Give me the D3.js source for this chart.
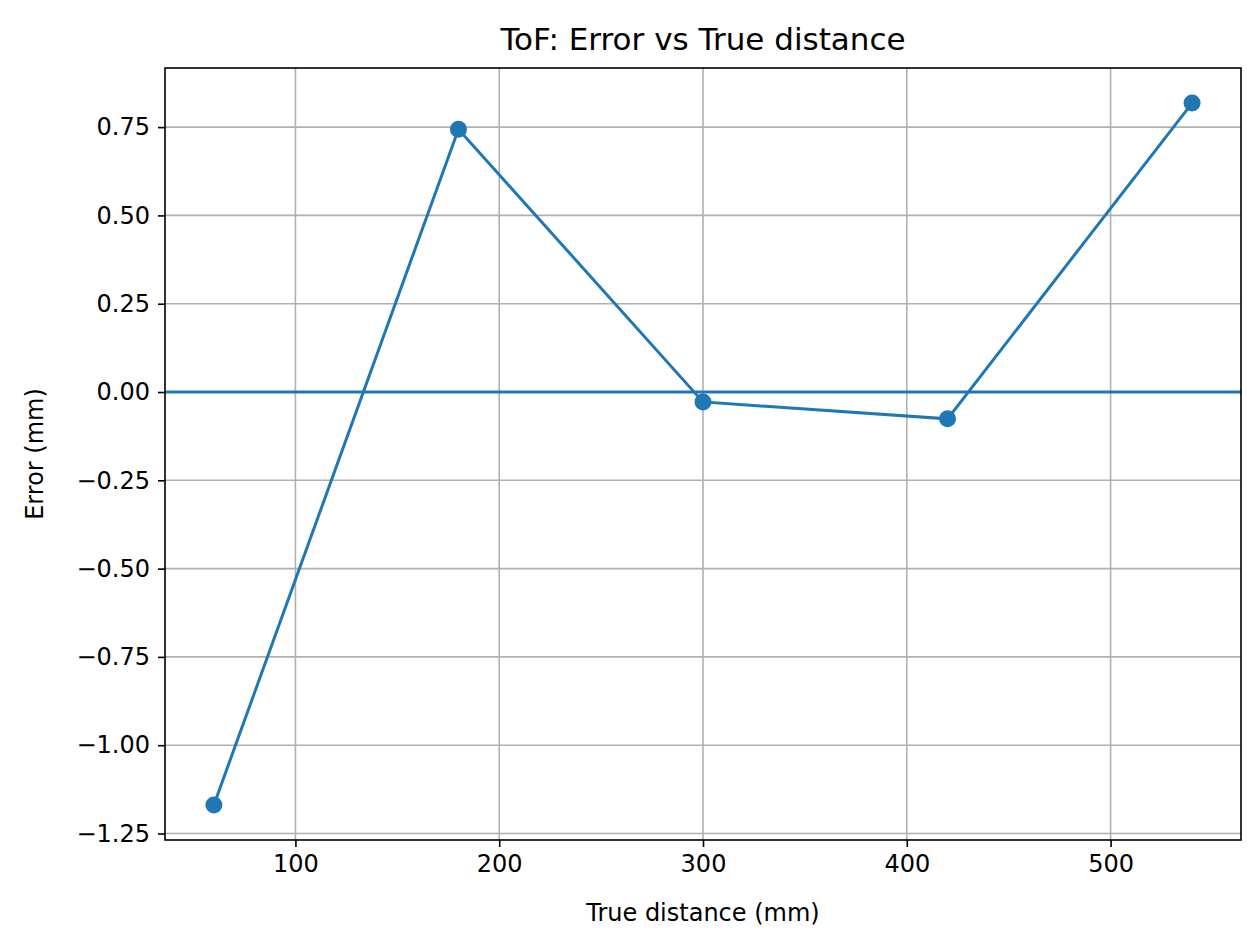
<!DOCTYPE html>
<html>
<head>
<meta charset="utf-8">
<script src="https://d3js.org/d3.v7.min.js"></script>
<style>
  body { margin: 0; background: #fff; }
  text { font-family: "DejaVu Sans", sans-serif; fill: #000; }
  .grid line { stroke: #b0b0b0; stroke-width: 1.6; }
</style>
</head>
<body>
<svg id="chart" width="1252" height="940"></svg>
<script>
  var distances = [60, 180, 300, 420, 540];
  var errors = [-1.169, 0.744, -0.028, -0.076, 0.818];
  var xTicks = [100, 200, 300, 400, 500];
  var yTicks = [-1.25, -1.00, -0.75, -0.50, -0.25, 0.00, 0.25, 0.50, 0.75];

  var mLeft = 165, mRight = 1241, mTop = 68, mBottom = 840;
  var blue = "#1f77b4";
  var svg = d3.select("#chart");

  var x = d3.scaleLinear().domain([36, 564]).range([mLeft, mRight]);
  var y = d3.scaleLinear().domain([-1.2684, 0.9174]).range([mBottom, mTop]);

  // grid
  var grid = svg.append("g").attr("class", "grid");
  grid.selectAll(".gx").data(xTicks).enter().append("line")
    .attr("x1", d => x(d)).attr("x2", d => x(d)).attr("y1", mTop).attr("y2", mBottom);
  grid.selectAll(".gy").data(yTicks).enter().append("line")
    .attr("x1", mLeft).attr("x2", mRight).attr("y1", d => y(d)).attr("y2", d => y(d));

  // zero line
  svg.append("line").attr("x1", mLeft).attr("x2", mRight)
    .attr("y1", y(0)).attr("y2", y(0))
    .attr("stroke", blue).attr("stroke-width", 3);

  // series
  var line = d3.line().x((d, i) => x(distances[i])).y(d => y(d));
  svg.append("path").attr("d", line(errors))
    .attr("fill", "none").attr("stroke", blue).attr("stroke-width", 3);
  svg.selectAll(".pt").data(errors).enter().append("circle")
    .attr("cx", (d, i) => x(distances[i])).attr("cy", d => y(d))
    .attr("r", 8.5).attr("fill", blue);

  // axes
  var xAxis = d3.axisBottom(x).tickValues(xTicks).tickSize(7).tickPadding(8);
  var yAxis = d3.axisLeft(y).tickValues(yTicks).tickSize(7).tickPadding(8)
    .tickFormat(d => d3.format(".2f")(d).replace("-", "\u2212"));

  svg.append("g").attr("transform", "translate(0," + mBottom + ")").call(xAxis)
    .call(g => g.select(".domain").remove())
    .selectAll("text").style("font-size", "24px");
  svg.append("g").attr("transform", "translate(" + mLeft + ",0)").call(yAxis)
    .call(g => g.select(".domain").remove())
    .selectAll("text").style("font-size", "24px");
  svg.selectAll(".tick line").attr("stroke", "#000").attr("stroke-width", 1.6);

  svg.append("rect").attr("x", mLeft).attr("y", mTop)
    .attr("width", mRight - mLeft).attr("height", mBottom - mTop)
    .attr("fill", "none").attr("stroke", "#000").attr("stroke-width", 1.6);

  svg.append("text").attr("x", (mLeft + mRight) / 2).attr("y", 50)
    .attr("text-anchor", "middle").style("font-size", "31px")
    .text("ToF: Error vs True distance");
  svg.append("text").attr("x", (mLeft + mRight) / 2).attr("y", 921)
    .attr("text-anchor", "middle").style("font-size", "24px")
    .text("True distance (mm)");
  svg.append("text").attr("transform", "translate(43," + ((mTop + mBottom) / 2) + ") rotate(-90)")
    .attr("text-anchor", "middle").style("font-size", "24px")
    .text("Error (mm)");
</script>
</body>
</html>
